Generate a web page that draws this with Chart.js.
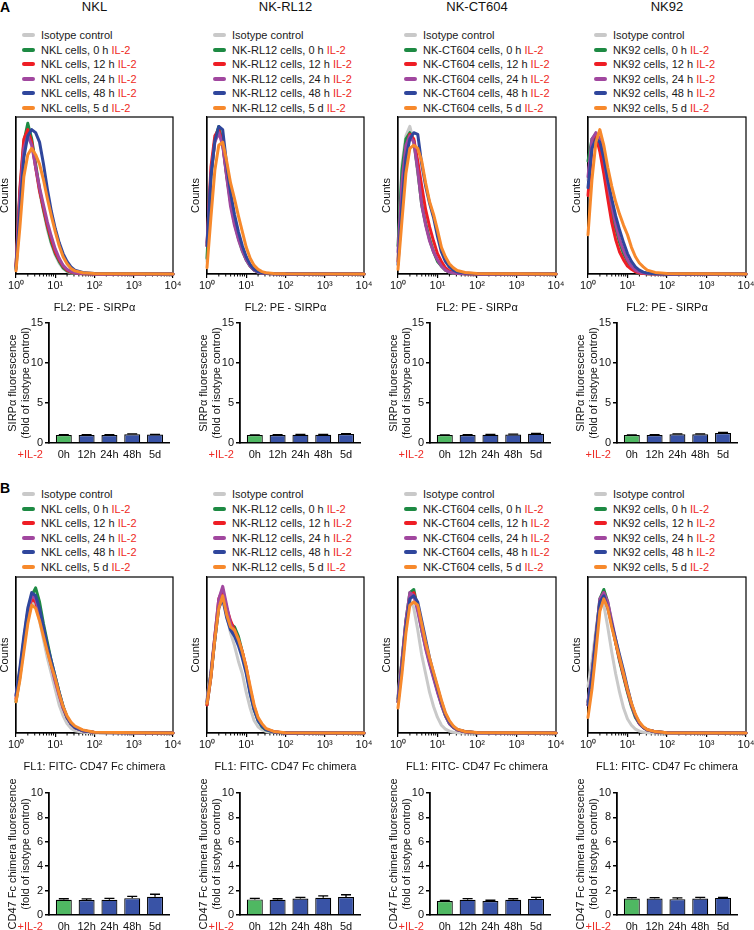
<!DOCTYPE html>
<html><head><meta charset="utf-8">
<script src="https://cdn.jsdelivr.net/npm/chart.js@4"></script>
<style>
body{margin:0;background:#fff;}
#fig{position:relative;width:754px;height:930px;overflow:hidden;font-family:"Liberation Sans",Arial,sans-serif;color:#1a1a1a;}
.t{position:absolute;white-space:nowrap;line-height:14px;height:14px;}
.sw{position:absolute;width:13px;height:4px;border-radius:2px;}
canvas{position:absolute;}
.red{color:#ee2a24;}
</style></head><body><div id="fig"></div>
<script>
// ---------- DATA ----------
const cellLines = ['NKL', 'NK-RL12', 'NK-CT604', 'NK92'];
const seriesNames = ['0 h', '12 h', '24 h', '48 h', '5 d'];
const timeLabels = ['0h', '12h', '24h', '48h', '5d'];
const xTickLabels = ['10\u2070', '10\u00b9', '10\u00b2', '10\u00b3', '10\u2074'];
// histogram x positions (log10 of fluorescence)
const logGrid = [0, 0.1, 0.2, 0.3, 0.4, 0.5, 0.6, 0.7, 0.8, 0.9, 1.0, 1.1, 1.2, 1.3, 1.4, 1.5, 1.7, 2.0, 4.0];
// counts (% of max) : isotype, 0h, 12h, 24h, 48h, 5d
const sirpHistNKL = [
  [3, 48, 80, 94, 85, 68, 52, 40, 28, 19, 12, 7, 3.5, 1.5, 0.8, 0.4, 0.2, 0, 0],
  [4, 52, 84, 96, 86, 70, 54, 41, 30, 20, 13, 8, 4, 2, 1, 0.5, 0.2, 0, 0],
  [5, 55, 86, 92, 84, 68, 53, 42, 31, 22, 14, 9, 5, 2.5, 1.2, 0.6, 0.2, 0, 0],
  [5, 50, 80, 88, 82, 68, 55, 44, 33, 24, 16, 10, 5.5, 3, 1.5, 0.7, 0.3, 0, 0],
  [3, 40, 74, 88, 92, 90, 84, 70, 54, 40, 29, 20, 13, 8, 4.5, 2.5, 1, 0.3, 0],
  [2, 30, 62, 76, 80, 76, 70, 60, 48, 37, 27, 18, 11, 6.5, 3.5, 2, 0.8, 0.3, 0]
];
const sirpHistRL12 = [
  [8, 60, 85, 93, 82, 62, 45, 32, 22, 14, 9, 5, 2.5, 1.2, 0.6, 0.3, 0.1, 0, 0],
  [10, 62, 86, 94, 83, 63, 46, 33, 23, 15, 9, 5, 2.5, 1.2, 0.6, 0.3, 0.1, 0, 0],
  [18, 68, 88, 92, 83, 64, 47, 34, 24, 16, 10, 5.5, 3, 1.5, 0.7, 0.3, 0.1, 0, 0],
  [20, 64, 84, 90, 82, 62, 43, 31, 22, 15, 9, 5, 2.5, 1.2, 0.6, 0.3, 0.1, 0, 0],
  [18, 62, 85, 94, 92, 70, 52, 38, 27, 18, 11, 6, 3, 1.5, 0.8, 0.4, 0.1, 0, 0],
  [4, 36, 66, 82, 84, 72, 58, 48, 37, 27, 17, 10, 5.5, 3, 1.5, 0.8, 0.3, 0.1, 0]
];
const sirpHistCT604 = [
  [10, 70, 88, 94, 84, 64, 46, 33, 23, 15, 9, 5, 2.5, 1.2, 0.6, 0.3, 0.1, 0, 0],
  [18, 66, 86, 90, 85, 66, 44, 32, 22, 14, 8, 5, 2.5, 1.2, 0.6, 0.3, 0.1, 0, 0],
  [8, 52, 80, 89, 86, 72, 56, 41, 30, 21, 13, 8, 4, 2, 1, 0.5, 0.2, 0, 0],
  [14, 58, 82, 88, 84, 66, 44, 31, 21, 14, 9, 5, 2.5, 1.2, 0.6, 0.3, 0.1, 0, 0],
  [6, 44, 74, 86, 90, 89, 70, 56, 45, 36, 24, 14, 8, 4.5, 2.5, 1.3, 0.6, 0.2, 0],
  [3, 34, 64, 80, 82, 80, 72, 58, 46, 38, 28, 17, 11, 6.5, 4, 2.2, 1, 0.3, 0]
];
const sirpHistNK92 = [
  [60, 84, 90, 86, 72, 56, 42, 30, 20, 12, 7, 3.5, 1.5, 0.7, 0.3, 0.1, 0, 0, 0],
  [72, 86, 89, 84, 70, 54, 40, 29, 20, 13, 8, 4, 2, 1, 0.5, 0.2, 0.1, 0, 0],
  [50, 80, 88, 78, 64, 48, 33, 22, 14, 9, 5, 3, 1.5, 0.7, 0.3, 0.1, 0, 0, 0],
  [62, 86, 90, 86, 74, 58, 44, 32, 22, 15, 9, 5, 2.5, 1.2, 0.6, 0.3, 0.1, 0, 0],
  [55, 80, 86, 84, 74, 60, 48, 37, 28, 20, 13, 8, 4.5, 2.5, 1.2, 0.6, 0.2, 0, 0],
  [25, 60, 84, 92, 82, 68, 56, 46, 38, 31, 25, 17, 11, 7, 4.5, 2.5, 1, 0.3, 0]
];
const cd47HistNKL = [
  [22, 38, 55, 72, 84, 82, 72, 60, 48, 38, 28, 18, 11, 6, 3, 1.5, 0.5, 0, 0],
  [20, 36, 56, 75, 88, 93, 84, 70, 58, 46, 36, 26, 17, 10, 6, 3.5, 1.5, 0.4, 0],
  [22, 38, 58, 76, 86, 84, 74, 64, 54, 44, 34, 25, 16, 10, 6, 3.5, 1.5, 0.4, 0],
  [24, 40, 60, 78, 88, 86, 76, 64, 53, 43, 33, 24, 16, 10, 6, 3.5, 1.5, 0.4, 0],
  [24, 42, 62, 80, 90, 88, 80, 68, 56, 46, 36, 26, 17, 10, 6, 3.5, 1.5, 0.4, 0],
  [20, 34, 52, 70, 82, 80, 72, 62, 52, 43, 35, 25, 17, 11, 7, 4.5, 2, 0.5, 0]
];
const cd47HistRL12 = [
  [22, 40, 62, 82, 86, 76, 64, 56, 46, 38, 26, 16, 8, 4, 2, 1, 0.3, 0, 0],
  [18, 36, 60, 82, 90, 80, 70, 68, 62, 52, 40, 26, 15, 8, 4, 2, 0.6, 0, 0],
  [18, 36, 62, 86, 92, 80, 72, 66, 60, 52, 42, 28, 17, 9, 5, 2.5, 0.8, 0, 0],
  [20, 38, 62, 86, 94, 82, 70, 64, 58, 50, 40, 27, 16, 9, 5, 2.5, 0.8, 0, 0],
  [20, 38, 60, 80, 86, 74, 66, 62, 56, 48, 38, 25, 15, 8, 4.5, 2.2, 0.7, 0, 0],
  [19, 36, 60, 80, 88, 76, 68, 66, 60, 52, 42, 30, 18, 10, 6, 3, 1, 0.2, 0]
];
const cd47HistCT604 = [
  [24, 48, 72, 86, 80, 66, 50, 38, 26, 17, 10, 5, 2.5, 1.2, 0.5, 0.2, 0, 0, 0],
  [22, 46, 72, 90, 92, 80, 66, 55, 45, 36, 27, 18, 11, 6, 3.5, 2, 0.8, 0.2, 0],
  [20, 44, 70, 88, 90, 80, 68, 56, 46, 37, 28, 19, 12, 7, 4, 2, 0.8, 0.2, 0],
  [22, 46, 72, 90, 88, 78, 66, 54, 44, 35, 26, 18, 11, 6, 3.5, 2, 0.8, 0.2, 0],
  [20, 42, 68, 86, 88, 84, 72, 60, 48, 38, 29, 20, 12, 7, 4, 2.2, 0.9, 0.2, 0],
  [16, 38, 64, 82, 84, 82, 70, 58, 48, 39, 30, 21, 13, 8, 4.5, 2.5, 1, 0.3, 0]
];
const cd47HistNK92 = [
  [30, 46, 66, 84, 82, 68, 52, 38, 26, 16, 9, 5, 2.5, 1.2, 0.5, 0.2, 0, 0, 0],
  [20, 38, 62, 86, 92, 84, 70, 58, 46, 36, 26, 17, 10, 6, 3.5, 2, 0.8, 0.2, 0],
  [18, 36, 60, 84, 90, 82, 70, 58, 47, 37, 27, 18, 11, 6, 3.5, 2, 0.8, 0.2, 0],
  [20, 38, 62, 86, 90, 84, 72, 60, 48, 38, 28, 18, 11, 6, 3.5, 2, 0.8, 0.2, 0],
  [18, 36, 60, 84, 88, 80, 70, 60, 50, 40, 29, 19, 11, 6.5, 3.5, 2, 0.8, 0.2, 0],
  [10, 28, 52, 78, 86, 80, 68, 58, 48, 38, 28, 19, 12, 7, 4, 2.2, 0.9, 0.2, 0]
];
// bar charts: fold of isotype control (mean) and error (SEM)
const sirpBarNKL = [1.0, 1.0, 1.0, 1.08, 1.05];
const sirpErrNKL = [0.03, 0.03, 0.03, 0.06, 0.04];
const sirpBarRL12 = [1.0, 1.0, 1.02, 1.03, 1.12];
const sirpErrRL12 = [0.02, 0.03, 0.04, 0.04, 0.06];
const sirpBarCT604 = [1.0, 1.0, 1.02, 1.05, 1.15];
const sirpErrCT604 = [0.02, 0.03, 0.04, 0.05, 0.06];
const sirpBarNK92 = [1.0, 1.0, 1.1, 1.08, 1.25];
const sirpErrNK92 = [0.02, 0.03, 0.04, 0.05, 0.06];
const cd47BarNKL = [1.25, 1.22, 1.25, 1.38, 1.5];
const cd47ErrNKL = [0.08, 0.1, 0.12, 0.15, 0.2];
const cd47BarRL12 = [1.28, 1.25, 1.35, 1.42, 1.48];
const cd47ErrRL12 = [0.08, 0.08, 0.1, 0.15, 0.18];
const cd47BarCT604 = [1.15, 1.25, 1.15, 1.25, 1.32];
const cd47ErrCT604 = [0.05, 0.1, 0.06, 0.08, 0.12];
const cd47BarNK92 = [1.35, 1.35, 1.3, 1.35, 1.4];
const cd47ErrNK92 = [0.08, 0.08, 0.1, 0.1, 0.05];

// ---------- STYLE / LAYOUT ----------
const FAMILY = '"Liberation Sans", Arial, sans-serif';
Chart.defaults.font.family = FAMILY;
Chart.defaults.font.size = 11;
Chart.defaults.color = '#111';
const lineColors = ['#c9c9c9', '#1d8a43', '#ee1d24', '#a1479f', '#2f469c', '#f7892c'];
const barGreen = '#4fb862', barBlue = '#3953a6';
const boxLeft = [16, 207, 398, 588];
const boxWidth = [157, 157, 158, 158];
const barAxisX = [49, 240, 430, 617];
const fig = document.getElementById('fig');

function addText(html, left, cy, css) {
  const d = document.createElement('div');
  d.className = 't';
  d.style.left = left + 'px';
  d.style.top = (cy - 7) + 'px';
  if (css) Object.assign(d.style, css);
  d.innerHTML = html;
  fig.appendChild(d);
  return d;
}
function addCanvas(L, T, W, H) {
  const c = document.createElement('canvas');
  c.width = W; c.height = H;
  c.style.left = L + 'px'; c.style.top = T + 'px';
  c.style.width = W + 'px'; c.style.height = H + 'px';
  fig.appendChild(c);
  return c;
}

const boxPlugin = {
  id: 'boxPlugin',
  beforeDatasetsDraw(chart) {
    const {ctx, chartArea: a, scales: {x}} = chart;
    ctx.save();
    ctx.strokeStyle = '#000';
    ctx.lineWidth = 1.2;
    ctx.strokeRect(a.left, a.top, a.right - a.left, a.bottom - a.top);
    ctx.lineWidth = 1;
    ctx.beginPath();
    for (let d = 0; d < 4; d++) {
      for (let k = 2; k <= 9; k++) {
        const px = x.getPixelForValue(d + Math.log10(k));
        ctx.moveTo(px, a.bottom - 1);
        ctx.lineTo(px, a.bottom + 2.5);
      }
    }
    ctx.stroke();
    ctx.restore();
  }
};
const errPlugin = {
  id: 'errPlugin',
  afterDatasetsDraw(chart) {
    const ctx = chart.ctx, ys = chart.scales.y;
    chart.data.datasets.forEach((ds, di) => {
      if (!ds.errors) return;
      const meta = chart.getDatasetMeta(di);
      ctx.save();
      ctx.strokeStyle = '#000';
      ctx.lineWidth = 1.3;
      meta.data.forEach((bar, i) => {
        const top = ys.getPixelForValue(ds.data[i].y + ds.errors[i]);
        ctx.beginPath();
        ctx.moveTo(bar.x, bar.y);
        ctx.lineTo(bar.x, top);
        ctx.moveTo(bar.x - 5, top);
        ctx.lineTo(bar.x + 5, top);
        ctx.stroke();
      });
      ctx.restore();
    });
  }
};

function histChart(col, row, curves, xTitle) {
  const bl = boxLeft[col], bw = boxWidth[col];
  const bt = row ? 577 : 117, bb = row ? 733 : 274;
  const titleCy = row ? 767 : 308;
  const L = bl - 18, T = bt - 6, W = 18 + bw + 14;
  const H = Math.round(titleCy + 6.6 - T);
  const xH = T + H - bb;
  const cv = addCanvas(L, T, W, H);
  new Chart(cv, {
    type: 'line',
    data: {
      datasets: curves.map((ys, i) => ({
        data: logGrid.map((x, j) => ({x, y: ys[j]})),
        borderColor: lineColors[i], borderWidth: 3, pointRadius: 0, tension: 0,
        borderJoinStyle: 'round', borderCapStyle: 'round', clip: false, order: 6 - i
      }))
    },
    options: {
      responsive: false, animation: false, devicePixelRatio: 1,
      events: [],
      plugins: {legend: {display: false}, tooltip: {enabled: false}},
      layout: {padding: {top: 6, right: 14, left: 0, bottom: 0}},
      scales: {
        x: {
          type: 'linear', min: 0, max: 4,
          afterBuildTicks: s => { s.ticks = [0, 1, 2, 3, 4].map(v => ({value: v})); },
          ticks: {callback: v => xTickLabels[v], color: '#111', padding: 1, maxRotation: 0, autoSkip: false, font: {size: 11}},
          grid: {drawOnChartArea: false, drawTicks: true, tickLength: 4, color: '#000', lineWidth: 1.2},
          border: {display: true, color: '#000', width: 1.2},
          title: {display: true, text: xTitle, color: '#111', padding: 0, font: {size: 11}},
          afterFit: s => { s.height = xH; s.paddingLeft = 0; s.paddingRight = 0; }
        },
        y: {
          min: 0, max: 100,
          ticks: {display: false},
          grid: {display: false},
          border: {display: true, color: '#000', width: 1.2},
          title: {display: true, text: 'Counts', color: '#111', padding: 0, font: {size: 11}},
          afterFit: s => { s.width = 18; s.paddingTop = 0; s.paddingBottom = 0; }
        }
      }
    },
    plugins: [boxPlugin]
  });
}

function barChart(col, row, values, errors, yTitle, yMax, yStep) {
  const ax = barAxisX[col];
  const top = row ? 793 : 323, bottom = row ? 915 : 443;
  const areaW = 5.3 * 22.8;
  const padTop = row ? 22 : 10;
  const L = ax - 43, T = top - padTop, W = 43 + Math.round(areaW) + 10;
  const H = row ? 930 - T : bottom + 22 - T;
  const xH = T + H - bottom;
  const cv = addCanvas(L, T, W, H);
  new Chart(cv, {
    type: 'bar',
    data: {
      datasets: [{
        data: values.map((v, i) => ({x: i, y: v})),
        errors: errors,
        backgroundColor: values.map((v, i) => i === 0 ? barGreen : barBlue),
        borderColor: '#000', borderWidth: 1.2,
        barPercentage: 0.7, categoryPercentage: 1
      }]
    },
    options: {
      responsive: false, animation: false, devicePixelRatio: 1,
      events: [],
      plugins: {legend: {display: false}, tooltip: {enabled: false}},
      layout: {padding: {top: padTop, right: W - 43 - areaW, left: 0, bottom: 0}},
      scales: {
        x: {
          type: 'linear', min: -0.65, max: 4.65, offset: false,
          afterBuildTicks: s => { s.ticks = [0, 1, 2, 3, 4].map(v => ({value: v})); },
          ticks: {callback: v => timeLabels[v], color: '#111', padding: 5, maxRotation: 0, autoSkip: false, font: {size: 11}},
          grid: {display: false, drawTicks: false, tickLength: 0},
          border: {display: true, color: '#000', width: 1.6},
          afterFit: s => { s.height = xH; s.paddingLeft = 0; s.paddingRight = 0; }
        },
        y: {
          min: 0, max: yMax,
          ticks: {stepSize: yStep, color: '#111', padding: 2, font: {size: 11}},
          grid: {drawOnChartArea: false, drawTicks: true, tickLength: 4, color: '#000', lineWidth: 1.5},
          border: {display: true, color: '#000', width: 1.8},
          title: {display: true, text: yTitle, color: '#111', padding: 0, font: {size: 11}},
          afterFit: s => { s.width = 43; s.paddingTop = 0; s.paddingBottom = 0; }
        }
      }
    },
    plugins: [errPlugin]
  });
  addText('+IL-2', 0, bottom + 11, {left: 'auto', right: (754 - (ax - 6)) + 'px', color: '#ee2a24', fontSize: '11px'});
}

// ---------- BUILD ----------
addText('A', 0, 7, {fontWeight: 'bold', fontSize: '14px', color: '#000'});
addText('B', 0, 488, {fontWeight: 'bold', fontSize: '14px', color: '#000'});
cellLines.forEach((name, c) => {
  const center = boxLeft[c] + boxWidth[c] / 2;
  addText(name, 0, 7, {fontSize: '13px', width: '120px', textAlign: 'center', left: (center - 60) + 'px', color: '#111'});
  [35, 494].forEach(y0 => {
    for (let k = 0; k < 6; k++) {
      const cy = y0 + k * 14.5;
      const sw = document.createElement('div');
      sw.className = 'sw';
      sw.style.left = (boxLeft[c] + 6) + 'px';
      sw.style.top = (cy - 2) + 'px';
      sw.style.background = lineColors[k];
      fig.appendChild(sw);
      const label = k === 0 ? 'Isotype control' : name + ' cells, ' + seriesNames[k - 1] + ' <span class="red">IL-2</span>';
      addText(label, boxLeft[c] + 25, cy, {fontSize: '11px', color: '#1a1a1a'});
    }
  });
});

const sirpHists = [sirpHistNKL, sirpHistRL12, sirpHistCT604, sirpHistNK92];
const cd47Hists = [cd47HistNKL, cd47HistRL12, cd47HistCT604, cd47HistNK92];
const sirpBars = [sirpBarNKL, sirpBarRL12, sirpBarCT604, sirpBarNK92];
const sirpErrs = [sirpErrNKL, sirpErrRL12, sirpErrCT604, sirpErrNK92];
const cd47Bars = [cd47BarNKL, cd47BarRL12, cd47BarCT604, cd47BarNK92];
const cd47Errs = [cd47ErrNKL, cd47ErrRL12, cd47ErrCT604, cd47ErrNK92];

for (let c = 0; c < 4; c++) {
  histChart(c, 0, sirpHists[c], 'FL2: PE - SIRPα');
  barChart(c, 0, sirpBars[c], sirpErrs[c], ['SIRPα fluorescence', '(fold of isotype control)'], 15, 5);
  histChart(c, 1, cd47Hists[c], 'FL1: FITC- CD47 Fc chimera');
  barChart(c, 1, cd47Bars[c], cd47Errs[c], ['CD47 Fc chimera fluorescence', '(fold of isotype control)'], 10, 2);
}
</script></body></html>
